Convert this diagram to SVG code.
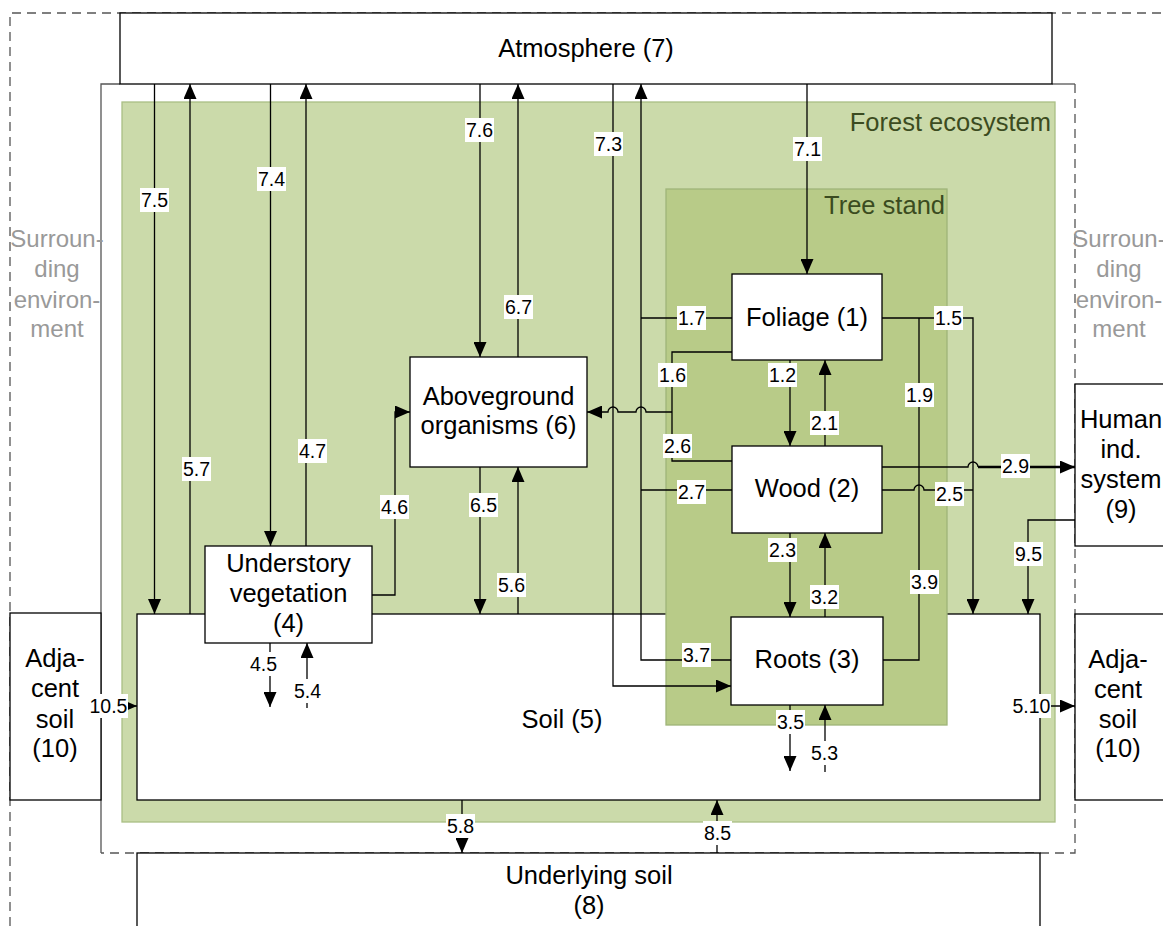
<svg xmlns="http://www.w3.org/2000/svg" width="1163" height="926" viewBox="0 0 1163 926">
  <defs>
    <marker id="ah" markerWidth="15" markerHeight="13" refX="15" refY="6.5" orient="auto" markerUnits="userSpaceOnUse">
      <path d="M0,0 L15,6.5 L0,13 z" fill="#000"/>
    </marker>
    <style>
      text { font-family: "Liberation Sans", Arial, sans-serif; }
      .box { fill: #fff; stroke: #000; stroke-width: 1.3; }
      .nt { font-size: 25.5px; fill: #000; text-anchor: middle; }
      .env { font-size: 24px; fill: #999; text-anchor: middle; }
      .dash { fill: none; stroke: #555; stroke-width: 1.3; stroke-dasharray: 9 6; }
      .bnd { fill: none; stroke: #555; stroke-width: 1.3; }
      .c { fill: none; stroke: #000; stroke-width: 1.3; }
      .ca { fill: none; stroke: #000; stroke-width: 1.3; marker-end: url(#ah); }
      .bold { stroke-width: 2.4; }
      .lb rect { fill: #fff; }
      .lb text { font-size: 19.5px; fill: #000; text-anchor: middle; }
      .zone { font-size: 25.5px; fill: #3b4b20; text-anchor: end; }
    </style>
  </defs>

  <!-- surrounding environment -->
  <g id="surrounding">
    <path class="dash" d="M10,926 V13 H1163"/>
    <path class="bnd" d="M120,84 H101 V853"/>
    <path class="bnd" d="M1052,84 H1075"/>
    <path class="dash" d="M1075,84 V853 H101"/>
    <text class="env" x="57" y="247">Surroun-</text>
    <text class="env" x="57" y="277">ding</text>
    <text class="env" x="57" y="308">environ-</text>
    <text class="env" x="57" y="337">ment</text>
    <text class="env" x="1119" y="247">Surroun-</text>
    <text class="env" x="1119" y="277">ding</text>
    <text class="env" x="1119" y="308">environ-</text>
    <text class="env" x="1119" y="337">ment</text>
  </g>

  <!-- forest ecosystem -->
  <g id="forest-ecosystem">
    <rect x="122" y="102" width="933" height="720" fill="#cbdaaa" stroke="#aabf85" stroke-width="1.3"/>
    <text class="zone" x="1051" y="131">Forest ecosystem</text>
  </g>

  <!-- soil (5) -->
  <g id="soil">
    <rect class="box" x="137" y="614" width="903" height="186"/>
    <text class="nt" x="562" y="728">Soil (5)</text>
  </g>

  <!-- tree stand -->
  <g id="tree-stand">
    <rect x="666" y="189" width="281" height="536" fill="#b8cb88" stroke="#9fb479" stroke-width="1.3"/>
    <text class="zone" x="945" y="214">Tree stand</text>
  </g>

  <!-- adjacent soil, left -->
  <g id="adjacent-soil-left">
    <rect class="box" x="10" y="613" width="91" height="187"/>
    <text class="nt" x="55" y="667">Adja-</text>
    <text class="nt" x="55" y="697">cent</text>
    <text class="nt" x="55" y="728">soil</text>
    <text class="nt" x="55" y="757">(10)</text>
  </g>

  <!-- flows -->
  <g id="connectors">
    <path class="ca" d="M154.5,84 V614"/>
    <path class="ca" d="M190,614 V84"/>
    <path class="ca" d="M270.5,84 V546"/>
    <path class="ca" d="M306,546 V84"/>
    <path class="ca" d="M480,84 V357"/>
    <path class="ca" d="M518,357 V84"/>
    <path class="ca" d="M613,84 V686 H731"/>
    <path class="c" d="M732,318 H641"/>
    <path class="c" d="M732,490 H641"/>
    <path class="ca" d="M731,660 H641 V84"/>
    <path class="ca" d="M807,84 V274"/>
    <path class="c" d="M732,352 H672 V461 H732"/>
    <path class="ca" d="M672,412 H646 A5,5 0 0 0 636,412 H618 A5,5 0 0 0 608,412 H587"/>
    <path class="ca" d="M790,360 V446"/>
    <path class="ca" d="M825,446 V360"/>
    <path class="ca" d="M790,533 V617"/>
    <path class="ca" d="M825,617 V533"/>
    <path class="ca" d="M882,318 H973 V614"/>
    <path class="c" d="M919,318 V660 H883"/>
    <path class="c" d="M882,490 H914 A5,5 0 0 1 924,490 H973"/>
    <path class="c" d="M882,467 H968 A5,5 0 0 1 978,467"/>
    <path class="ca bold" d="M978,467 H1075"/>
    <path class="ca" d="M1075,520 H1028 V614"/>
    <path class="ca" d="M372,595 H395 V412 H410"/>
    <path class="ca" d="M480,467 V614"/>
    <path class="ca" d="M518,614 V467"/>
    <path class="ca" d="M270,643 V707"/>
    <path class="ca" d="M307,708 V643"/>
    <path class="ca" d="M790,705 V771"/>
    <path class="ca" d="M825,772 V705"/>
    <path class="ca" d="M101,706 H137"/>
    <path class="ca" d="M1040,706 H1075"/>
    <path class="ca" d="M462,800 V853"/>
    <path class="ca" d="M717,853 V800"/>

    <!-- flow labels -->
    <g class="lb"><rect x="140" y="188" width="29" height="24"/><text x="154.5" y="207">7.5</text></g>
    <g class="lb"><rect x="182" y="457" width="29" height="24"/><text x="196.5" y="476">5.7</text></g>
    <g class="lb"><rect x="257" y="167" width="29" height="24"/><text x="271.5" y="186">7.4</text></g>
    <g class="lb"><rect x="298" y="439" width="29" height="24"/><text x="312.5" y="458">4.7</text></g>
    <g class="lb"><rect x="465" y="118" width="29" height="24"/><text x="479.5" y="137">7.6</text></g>
    <g class="lb"><rect x="504" y="295" width="29" height="24"/><text x="518.5" y="314">6.7</text></g>
    <g class="lb"><rect x="594" y="132" width="29" height="24"/><text x="608.5" y="151">7.3</text></g>
    <g class="lb"><rect x="793" y="137" width="29" height="24"/><text x="807.5" y="156">7.1</text></g>
    <g class="lb"><rect x="677" y="306" width="29" height="24"/><text x="691.5" y="325">1.7</text></g>
    <g class="lb"><rect x="658" y="363" width="29" height="24"/><text x="672.5" y="382">1.6</text></g>
    <g class="lb"><rect x="768" y="363" width="29" height="24"/><text x="782.5" y="382">1.2</text></g>
    <g class="lb"><rect x="810" y="411" width="29" height="24"/><text x="824.5" y="430">2.1</text></g>
    <g class="lb"><rect x="663" y="434" width="29" height="24"/><text x="677.5" y="453">2.6</text></g>
    <g class="lb"><rect x="934" y="306" width="29" height="24"/><text x="948.5" y="325">1.5</text></g>
    <g class="lb"><rect x="905" y="383" width="29" height="24"/><text x="919.5" y="402">1.9</text></g>
    <g class="lb"><rect x="677" y="480" width="29" height="24"/><text x="691.5" y="499">2.7</text></g>
    <g class="lb"><rect x="935" y="482" width="29" height="24"/><text x="949.5" y="501">2.5</text></g>
    <g class="lb"><rect x="1001" y="454" width="29" height="24"/><text x="1015.5" y="473">2.9</text></g>
    <g class="lb"><rect x="768" y="538" width="29" height="24"/><text x="782.5" y="557">2.3</text></g>
    <g class="lb"><rect x="810" y="585" width="29" height="24"/><text x="824.5" y="604">3.2</text></g>
    <g class="lb"><rect x="910" y="570" width="29" height="24"/><text x="924.5" y="589">3.9</text></g>
    <g class="lb"><rect x="682" y="643" width="29" height="24"/><text x="696.5" y="662">3.7</text></g>
    <g class="lb"><rect x="1014" y="542" width="29" height="24"/><text x="1028.5" y="561">9.5</text></g>
    <g class="lb"><rect x="380" y="495" width="29" height="24"/><text x="394.5" y="514">4.6</text></g>
    <g class="lb"><rect x="469" y="493" width="29" height="24"/><text x="483.5" y="512">6.5</text></g>
    <g class="lb"><rect x="497" y="573" width="29" height="24"/><text x="511.5" y="592">5.6</text></g>
    <g class="lb"><rect x="249" y="652" width="29" height="24"/><text x="263.5" y="671">4.5</text></g>
    <g class="lb"><rect x="293" y="679" width="29" height="24"/><text x="307.5" y="698">5.4</text></g>
    <g class="lb"><rect x="89" y="694" width="39" height="24"/><text x="108.5" y="713">10.5</text></g>
    <g class="lb"><rect x="1012" y="694" width="39" height="24"/><text x="1031.5" y="713">5.10</text></g>
    <g class="lb"><rect x="776" y="710" width="29" height="24"/><text x="790.5" y="729">3.5</text></g>
    <g class="lb"><rect x="810" y="741" width="29" height="24"/><text x="824.5" y="760">5.3</text></g>
    <g class="lb"><rect x="446" y="814" width="29" height="24"/><text x="460.5" y="833">5.8</text></g>
    <g class="lb"><rect x="703" y="821" width="29" height="24"/><text x="717.5" y="840">8.5</text></g>
  </g>

  <!-- compartments -->
  <g id="atmosphere">
    <rect class="box" x="120" y="13" width="932" height="71"/>
    <text class="nt" x="586" y="57">Atmosphere (7)</text>
  </g>
  <g id="understory">
    <rect class="box" x="205" y="546" width="167" height="97"/>
    <text class="nt" x="288.5" y="572">Understory</text>
    <text class="nt" x="288.5" y="602">vegetation</text>
    <text class="nt" x="288.5" y="632">(4)</text>
  </g>
  <g id="aboveground">
    <rect class="box" x="410" y="357" width="177" height="110"/>
    <text class="nt" x="498.5" y="405">Aboveground</text>
    <text class="nt" x="498.5" y="434">organisms (6)</text>
  </g>
  <g id="foliage">
    <rect class="box" x="732" y="274" width="150" height="86"/>
    <text class="nt" x="807" y="326">Foliage (1)</text>
  </g>
  <g id="wood">
    <rect class="box" x="732" y="446" width="150" height="87"/>
    <text class="nt" x="807" y="497">Wood (2)</text>
  </g>
  <g id="roots">
    <rect class="box" x="731" y="617" width="152" height="88"/>
    <text class="nt" x="807" y="668">Roots (3)</text>
  </g>
  <g id="human-system">
    <rect class="box" x="1075" y="384" width="110" height="162"/>
    <text class="nt" x="1121" y="428">Human</text>
    <text class="nt" x="1121" y="458">ind.</text>
    <text class="nt" x="1121" y="488">system</text>
    <text class="nt" x="1121" y="518">(9)</text>
  </g>
  <g id="adjacent-soil-right">
    <rect class="box" x="1075" y="614" width="110" height="186"/>
    <text class="nt" x="1118" y="668">Adja-</text>
    <text class="nt" x="1118" y="698">cent</text>
    <text class="nt" x="1118" y="728">soil</text>
    <text class="nt" x="1118" y="757">(10)</text>
  </g>
  <g id="underlying-soil">
    <rect class="box" x="137" y="853" width="903" height="90"/>
    <text class="nt" x="589" y="884">Underlying soil</text>
    <text class="nt" x="589" y="914">(8)</text>
  </g>
</svg>
